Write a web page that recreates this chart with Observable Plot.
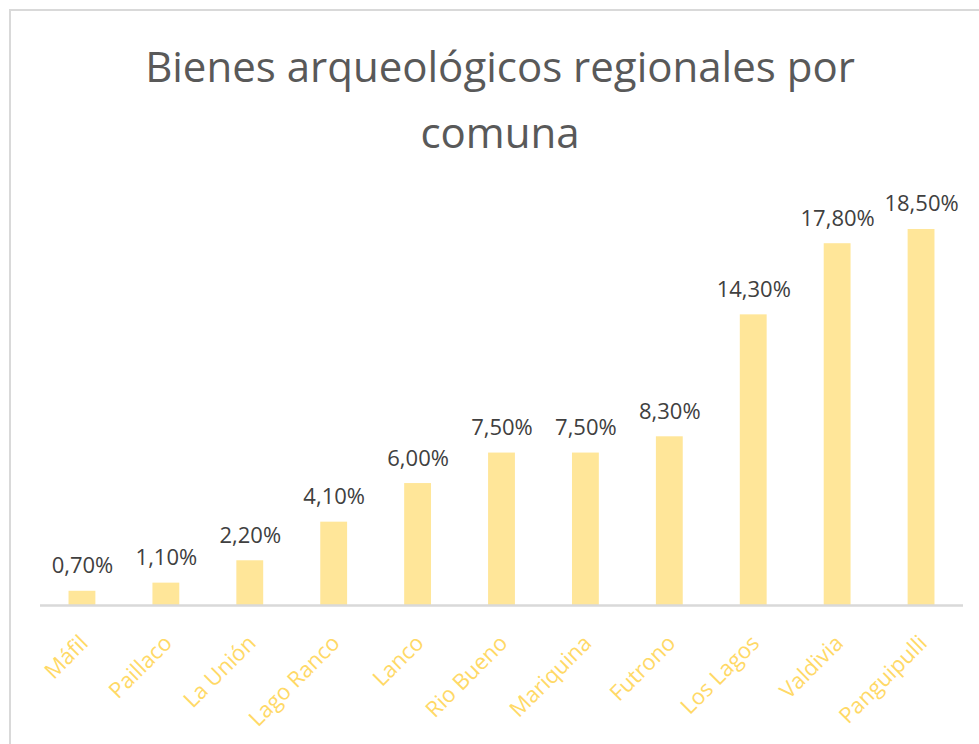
<!DOCTYPE html>
<html>
<head>
<meta charset="utf-8">
<script src="https://cdn.jsdelivr.net/npm/d3@7"></script>
<script src="https://cdn.jsdelivr.net/npm/@observablehq/plot@0.6"></script>
<style>
  html, body { margin: 0; padding: 0; background: #fff; overflow: hidden; width: 979px; height: 744px; }
  #frame { position: absolute; left: 9px; top: 9px; width: 1000px; height: 800px;
           border-left: 2px solid #d9d9d9; border-top: 2px solid #d9d9d9; }
  #title { position: absolute; left: 10px; width: 980px; top: 33px; text-align: center;
           font-family: "Open Sans", sans-serif; font-weight: 400; font-size: 42px; line-height: 66px; color: #595959; }
  #chart { position: absolute; left: 0; top: 180px; }
</style>
</head>
<body>
<div id="frame"></div>
<div id="title">Bienes arqueológicos regionales por<br>comuna</div>
<div id="chart"></div>
<script>
const comunas = ["Máfil", "Paillaco", "La Unión", "Lago Ranco", "Lanco", "Rio Bueno", "Mariquina", "Futrono", "Los Lagos", "Valdivia", "Panguipulli"];
const porcentajes = [0.7, 1.1, 2.2, 4.1, 6.0, 7.5, 7.5, 8.3, 14.3, 17.8, 18.5];

const data = comunas.map((c, i) => ({comuna: c, valor: porcentajes[i]}));
const fmt = v => v.toFixed(2).replace(".", ",") + "%";

const chart = Plot.plot({
  width: 979,
  height: 564,
  marginLeft: 40,
  marginRight: 16,
  marginTop: 18.5,
  marginBottom: 139,
  style: {fontFamily: "'Open Sans', sans-serif", background: "transparent"},
  x: {domain: comunas, paddingInner: 0.68, paddingOuter: 0.34, round: false, axis: null},
  y: {domain: [0, 20], axis: null},
  marks: [
    Plot.barY(data, {x: "comuna", y: "valor", fill: "#FFE699"}),
    Plot.ruleY([0], {stroke: "#d9d9d9", strokeWidth: 2.5}),
    Plot.text(data, {x: "comuna", y: "valor", text: d => fmt(d.valor), lineAnchor: "bottom", dy: -18,
      fontSize: 22, fill: "#404040"}),
    Plot.text(data, {x: "comuna", y: () => 0, text: "comuna", rotate: -45, textAnchor: "end",
      lineAnchor: "middle", dx: 2, dy: 34, fontSize: 22, fill: "#FFD966"})
  ]
});
document.getElementById("chart").appendChild(chart);
</script>
</body>
</html>
